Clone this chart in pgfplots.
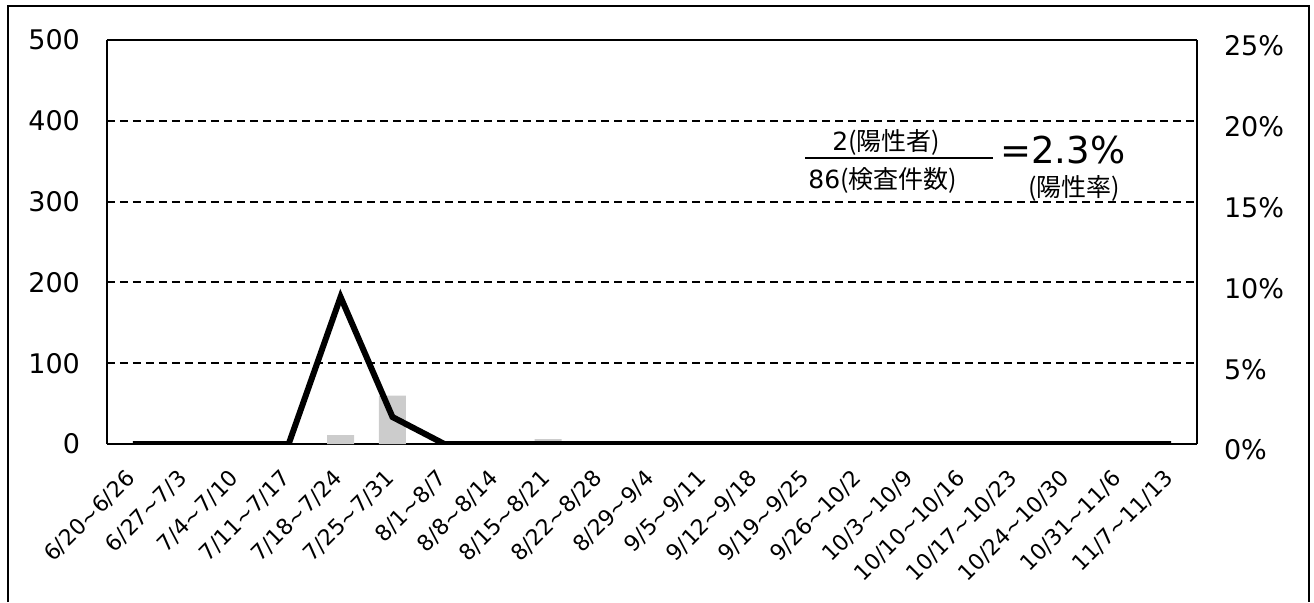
\documentclass[border=0pt]{standalone}
\usepackage{fontspec}
\setmainfont{DejaVu Sans}
\newfontfamily\jp{Noto Sans CJK JP}
\usepackage{pgfplots}
\pgfplotsset{compat=1.18}
\newcommand\tl{\textasciitilde}
\begin{document}
\begin{tikzpicture}
\useasboundingbox (0,0) rectangle (657pt,301pt);
\draw[line width=1pt] (4pt,0pt) -- (4pt,298pt) -- (654.5pt,298pt) -- (654.5pt,0pt);
\begin{axis}[
  at={(53.5pt,79pt)}, anchor=south west,
  scale only axis, width=545pt, height=202pt,
  xmin=-0.5, xmax=20.5, ymin=0, ymax=500,
  xtick={0,...,20},
  xticklabels={6/20\tl6/26, 6/27\tl7/3, 7/4\tl7/10, 7/11\tl7/17, 7/18\tl7/24, 7/25\tl7/31, 8/1\tl8/7, 8/8\tl8/14, 8/15\tl8/21, 8/22\tl8/28, 8/29\tl9/4, 9/5\tl9/11, 9/12\tl9/18, 9/19\tl9/25, 9/26\tl10/2, 10/3\tl10/9, 10/10\tl10/16, 10/17\tl10/23, 10/24\tl10/30, 10/31\tl11/6, 11/7\tl11/13},
  xticklabel style={yshift=-13pt, xshift=1.5pt, rotate=45, anchor=east, font=\fontsize{11}{13}\selectfont},
  ytick={0,100,200,300,400,500},
  yticklabels={0,100,200,300,400,500},
  yticklabel style={xshift=-10pt, font=\fontsize{13.5}{15}\selectfont},
  major tick length=0pt,
  ymajorgrids, grid style={line width=1pt, dash pattern=on 4pt off 2.5pt, black},
  axis line style={line width=1pt},
  axis y line*=left, axis x line*=bottom,
]
\addplot[ybar, bar width=13.5pt, fill=black!20, draw=none] coordinates {(4,11) (5,60) (8,6)};
\end{axis}
\begin{axis}[
  at={(53.5pt,79pt)}, anchor=south west,
  scale only axis, width=545pt, height=202pt,
  xmin=-0.5, xmax=20.5, ymin=0, ymax=25,
  axis x line*=top, xtick=\empty,
  axis y line*=right,
  ytick={0,5,10,15,20,25},
  yticklabels={0\%,5\%,10\%,15\%,20\%,25\%},
  yticklabel style={xshift=10pt, yshift=-3pt, font=\fontsize{13.5}{15}\selectfont},
  major tick length=0pt,
  axis line style={line width=1pt},
]
\addplot[black, line width=3pt, line join=miter] coordinates {(0,0) (1,0) (2,0) (3,0) (4,9.1) (5,1.67) (6,0) (7,0) (8,0) (9,0) (10,0) (11,0) (12,0) (13,0) (14,0) (15,0) (16,0) (17,0) (18,0) (19,0) (20,0)};
\end{axis}
\node[anchor=base west, inner sep=0pt] at (416pt,226pt) {\fontsize{12.5}{14}\selectfont 2{\jp\fontsize{12.5}{14}\selectfont (陽性者)}};
\draw[line width=1pt] (402.5pt,222pt) -- (496.5pt,222pt);
\node[anchor=base west, inner sep=0pt] at (404pt,207pt) {\fontsize{12.5}{14}\selectfont 86{\jp\fontsize{12.5}{14}\selectfont (検査件数)}};
\node[anchor=base west, inner sep=0pt] at (500pt,219.5pt) {\fontsize{18.5}{20}\selectfont =2.3\%};
\node[anchor=base west, inner sep=0pt] at (514pt,203pt) {\jp\fontsize{12.5}{14}\selectfont (陽性率)};
\end{tikzpicture}
\end{document}
